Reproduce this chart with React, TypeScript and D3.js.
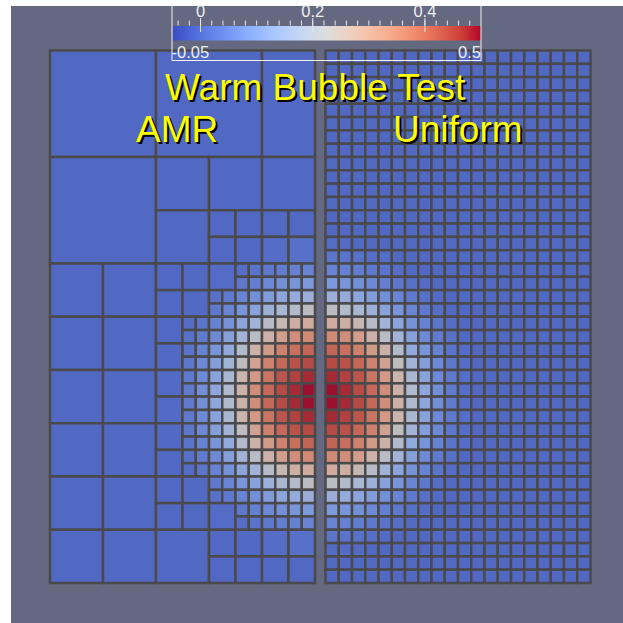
import React from "react";
import * as d3 from "d3";

const W = 623;
const H = 623;

// Cool-to-warm colour map stops, spread evenly over the value range
const coolWarmStops = [
  "#3b4cc0", "#4d68d7", "#6282ea", "#779af7", "#8db0fe", "#a3c2ff",
  "#b8d0f9", "#ccd9ee", "#dddddd", "#ecd3c5", "#f5c4ad", "#f7b194",
  "#f49a7b", "#ec7f63", "#de604d", "#cb3e38", "#b40426",
];
const valueRange: [number, number] = [-0.05, 0.5];
const colorbarMajorTicks = [0, 0.2, 0.4];
const colorbarEndLabels = ["-0.05", "0.5"];

const titleText = "Warm Bubble Test";
const leftLabel = "AMR";
const rightLabel = "Uniform";

// Temperature perturbation for one quadrant of the bubble.
// Row j = cells away from the bubble centre vertically, column i = horizontally.
const bubbleQuadrant: number[][] = [
  [0.50, 0.48, 0.45, 0.41, 0.35, 0.27, 0.19, 0.12, 0.065, 0.03, 0.01],
  [0.48, 0.46, 0.435, 0.39, 0.33, 0.26, 0.18, 0.11, 0.06, 0.028, 0.009],
  [0.45, 0.44, 0.41, 0.37, 0.31, 0.23, 0.16, 0.10, 0.054, 0.024, 0.007],
  [0.415, 0.40, 0.37, 0.325, 0.27, 0.20, 0.13, 0.08, 0.043, 0.019, 0.005],
  [0.36, 0.35, 0.32, 0.27, 0.215, 0.16, 0.105, 0.06, 0.03, 0.012, 0],
  [0.29, 0.28, 0.25, 0.21, 0.16, 0.115, 0.074, 0.043, 0.02, 0.007, 0],
  [0.22, 0.20, 0.18, 0.15, 0.11, 0.078, 0.049, 0.026, 0.01, 0, 0],
  [0.145, 0.135, 0.117, 0.096, 0.069, 0.047, 0.027, 0.013, 0.004, 0, 0],
  [0.088, 0.08, 0.068, 0.055, 0.039, 0.025, 0.013, 0.005, 0, 0, 0],
  [0.046, 0.042, 0.035, 0.026, 0.018, 0.009, 0.004, 0, 0, 0, 0],
  [0.02, 0.018, 0.014, 0.009, 0.006, 0, 0, 0, 0, 0, 0],
  [0.006, 0.005, 0.003, 0, 0, 0, 0, 0, 0, 0, 0],
];

// Grid extent of each half-domain (cells) and the bubble centre row boundary
const gridCols = 20;
const gridRows = 40;
const centreRow = 26;

// AMR patches: [col, row, widthCells, heightCells, blockSize]
const amrPatches: number[][] = [
  [0, 0, 8, 8, 8],
  [8, 0, 8, 8, 8],
  [16, 0, 8, 8, 8],
  [0, 8, 8, 8, 8],
  [8, 8, 8, 4, 4],
  [16, 8, 4, 4, 4],
  [8, 12, 4, 4, 4],
  [12, 12, 8, 4, 2],
  [0, 16, 8, 24, 4],
  [8, 16, 4, 4, 2],
  [12, 16, 2, 2, 2],
  [14, 16, 6, 2, 1],
  [12, 18, 8, 2, 1],
  [8, 20, 2, 12, 2],
  [10, 20, 10, 12, 1],
  [8, 32, 4, 4, 2],
  [12, 32, 8, 2, 1],
  [12, 34, 2, 2, 2],
  [14, 34, 6, 2, 1],
  [8, 36, 4, 4, 4],
  [12, 36, 8, 4, 2],
];

const colorScale = d3
  .scaleLinear<string>()
  .domain(coolWarmStops.map((_, k) => valueRange[0] + (k * (valueRange[1] - valueRange[0])) / (coolWarmStops.length - 1)))
  .range(coolWarmStops)
  .interpolate(d3.interpolateRgb)
  .clamp(true);

// Ambient dimming of the rendered surface
const shade = (v: number) => d3.interpolateRgb(colorScale(v), "#3c3c50")(0.2);

const rowOffset = (r: number) => (r >= centreRow ? r - centreRow : centreRow - 1 - r);
const quadrantValue = (i: number, j: number) => (bubbleQuadrant[j] && bubbleQuadrant[j][i] !== undefined ? bubbleQuadrant[j][i] : 0);

const yScale = d3.scaleLinear().domain([0, gridRows]).range([50.5, 583]);
const xLeft = d3.scaleLinear().domain([0, gridCols]).range([50, 315]);
const xRight = d3.scaleLinear().domain([0, gridCols]).range([325.5, 590.5]);
const xBar = d3.scaleLinear().domain(valueRange).range([172.5, 481]);

type Cell = { c: number; r: number; w: number; h: number; v: number };

function uniformCells(): Cell[] {
  const cells: Cell[] = [];
  for (let r = 0; r < gridRows; r++) {
    for (let c = 0; c < gridCols; c++) {
      cells.push({ c, r, w: 1, h: 1, v: quadrantValue(c, rowOffset(r)) });
    }
  }
  return cells;
}

function amrCells(): Cell[] {
  const cells: Cell[] = [];
  amrPatches.forEach(([c0, r0, w, h, s]) => {
    for (let r = r0; r < r0 + h; r += s) {
      for (let c = c0; c < c0 + w; c += s) {
        if (c >= gridCols) continue;
        const bw = Math.min(s, gridCols - c);
        const vals: number[] = [];
        for (let rr = r; rr < r + s; rr++) {
          for (let cc = c; cc < c + bw; cc++) {
            vals.push(quadrantValue(gridCols - 1 - cc, rowOffset(rr)));
          }
        }
        cells.push({ c, r, w: bw, h: s, v: d3.mean(vals) ?? 0 });
      }
    }
  });
  return cells;
}

const lineColor = "#4a4a4c";
const lineWidth = 2.5;
const fontFamily = "'Liberation Sans', Arial, sans-serif";

function ShadowText({ x, y, text, size, anchor = "start" }: { x: number; y: number; text: string; size: number; anchor?: string }) {
  return (
    <g fontFamily={fontFamily} fontSize={size} textAnchor={anchor as any}>
      <text x={x + 2} y={y + 2} fill="#000000">{text}</text>
      <text x={x} y={y} fill="#ffff00">{text}</text>
    </g>
  );
}

export default function App() {
  const right = uniformCells();
  const left = amrCells();
  const minorTicks = d3.range(-0.04, 0.495, 0.02);
  const barStops = coolWarmStops.map((col, k) => ({ offset: k / (coolWarmStops.length - 1), col }));

  return (
    <svg width={W} height={H} style={{ position: "absolute", left: 0, top: 0, display: "block" }}>
      <defs>
        <linearGradient id="barGradient" x1="0" x2="1" y1="0" y2="0">
          {barStops.map((s) => (
            <stop key={s.offset} offset={s.offset} stopColor={s.col} />
          ))}
        </linearGradient>
      </defs>
      <rect x={0} y={0} width={W} height={H} fill="#ffffff" />
      <rect x={11} y={6} width={W - 11} height={H - 6} fill="#646981" />

      {/* AMR half */}
      <g>
        {left.map((d, k) => (
          <rect
            key={k}
            x={xLeft(d.c)}
            y={yScale(d.r)}
            width={xLeft(d.c + d.w) - xLeft(d.c)}
            height={yScale(d.r + d.h) - yScale(d.r)}
            fill={shade(d.v)}
            stroke={lineColor}
            strokeWidth={lineWidth}
          />
        ))}
      </g>

      {/* Uniform half */}
      <g>
        {right.map((d, k) => (
          <rect
            key={k}
            x={xRight(d.c)}
            y={yScale(d.r)}
            width={xRight(d.c + d.w) - xRight(d.c)}
            height={yScale(d.r + d.h) - yScale(d.r)}
            fill={shade(d.v)}
            stroke={lineColor}
            strokeWidth={lineWidth}
          />
        ))}
      </g>

      {/* Colour bar */}
      <g>
        <rect x={xBar(valueRange[0])} y={26} width={xBar(valueRange[1]) - xBar(valueRange[0])} height={14.5} fill="url(#barGradient)" />
        {minorTicks.map((t) => (
          <line key={t} x1={xBar(t)} x2={xBar(t)} y1={20.5} y2={25.5} stroke="#e6e6e6" strokeWidth={1} />
        ))}
        {colorbarMajorTicks.map((t) => (
          <line key={"M" + t} x1={xBar(t)} x2={xBar(t)} y1={18} y2={32} stroke="#e6e6e6" strokeWidth={1} />
        ))}
        <path d={`M172,0 V60.5 H481 V0`} fill="none" stroke="#f2f2f2" strokeWidth={1} />
        <g fontFamily={fontFamily} fontSize={16.5} fill="#eeeeee">
          {colorbarMajorTicks.map((t) => (
            <text key={"L" + t} x={xBar(t)} y={16.5} textAnchor="middle">
              {d3.format("")(t)}
            </text>
          ))}
          <text x={171.5} y={57.5}>{colorbarEndLabels[0]}</text>
          <text x={481} y={57.5} textAnchor="end">{colorbarEndLabels[1]}</text>
        </g>
      </g>

      {/* Titles */}
      <ShadowText x={165} y={100} text={titleText} size={37} />
      <ShadowText x={136} y={141.5} text={leftLabel} size={37} />
      <ShadowText x={393} y={141.5} text={rightLabel} size={37} />
    </svg>
  );
}
